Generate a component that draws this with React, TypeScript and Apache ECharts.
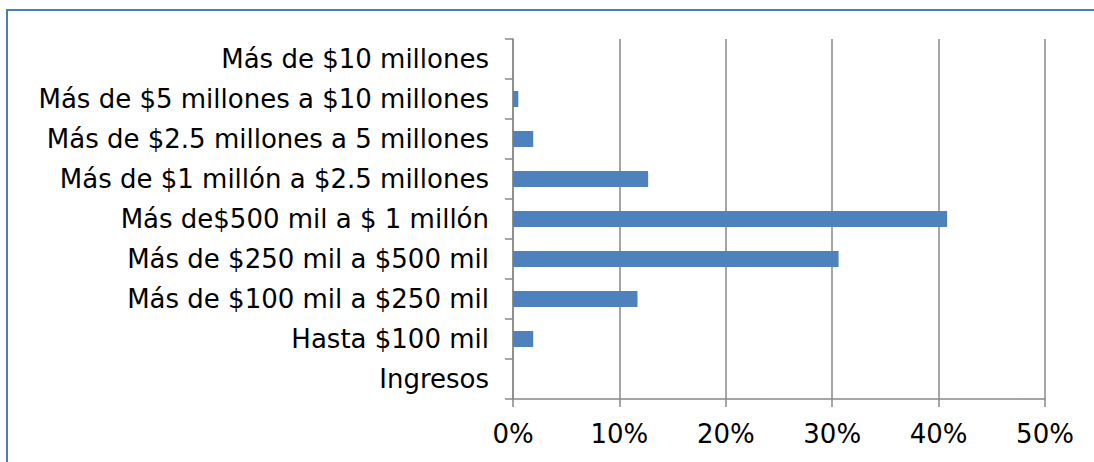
import React, { useEffect, useRef } from "react";
import * as echarts from "echarts";

const categories = [
  "Ingresos",
  "Hasta $100 mil",
  "Más de $100 mil a $250 mil",
  "Más de $250 mil a $500 mil",
  "Más de$500 mil a $ 1 millón",
  "Más de $1 millón a $2.5 millones",
  "Más de $2.5 millones a 5 millones",
  "Más de $5 millones a $10 millones",
  "Más de $10 millones",
];

const shares = [null, 0.019, 0.117, 0.306, 0.408, 0.127, 0.019, 0.005, 0];

const xTickMin = 0;
const xTickMax = 0.5;
const xTickStep = 0.1;

export default function App() {
  const ref = useRef<HTMLDivElement>(null);

  useEffect(() => {
    if (!ref.current) return;
    const chart = echarts.init(ref.current, undefined, { renderer: "svg" });
    const font = "DejaVu Sans";
    chart.setOption({
      animation: false,
      backgroundColor: "#ffffff",
      graphic: [
        {
          type: "rect",
          shape: { x: 7, y: 10, width: 1092, height: 470 },
          style: { fill: "none", stroke: "#4A7EBB", lineWidth: 2 },
          silent: true,
          z: 0,
        },
      ],
      grid: { left: 513, right: 49, top: 39, bottom: 63, containLabel: false },
      xAxis: {
        type: "value",
        min: xTickMin,
        max: xTickMax,
        interval: xTickStep,
        axisLine: { show: true, lineStyle: { color: "#888888", width: 1.5 } },
        axisTick: { show: true, length: 8, lineStyle: { color: "#888888", width: 1.5 } },
        splitLine: { show: true, lineStyle: { color: "#888888", width: 1.5 } },
        axisLabel: {
          color: "#000000",
          fontFamily: font,
          fontSize: 26,
          margin: 22,
          formatter: (v: number) => `${Math.round(v * 100)}%`,
        },
      },
      yAxis: {
        type: "category",
        data: categories,
        boundaryGap: true,
        axisLine: { show: true, lineStyle: { color: "#888888", width: 1.5 } },
        axisTick: { show: true, length: 8, lineStyle: { color: "#888888", width: 1.5 } },
        splitLine: { show: false },
        axisLabel: {
          color: "#000000",
          fontFamily: font,
          fontSize: 26,
          margin: 24,
          interval: 0,
        },
      },
      series: [
        {
          type: "bar",
          data: shares,
          barWidth: 16,
          itemStyle: { color: "#4F81BD" },
        },
      ],
    });
    return () => chart.dispose();
  }, []);

  return (
    <div
      ref={ref}
      style={{ position: "absolute", left: 0, top: 0, width: 1094, height: 462 }}
    />
  );
}
